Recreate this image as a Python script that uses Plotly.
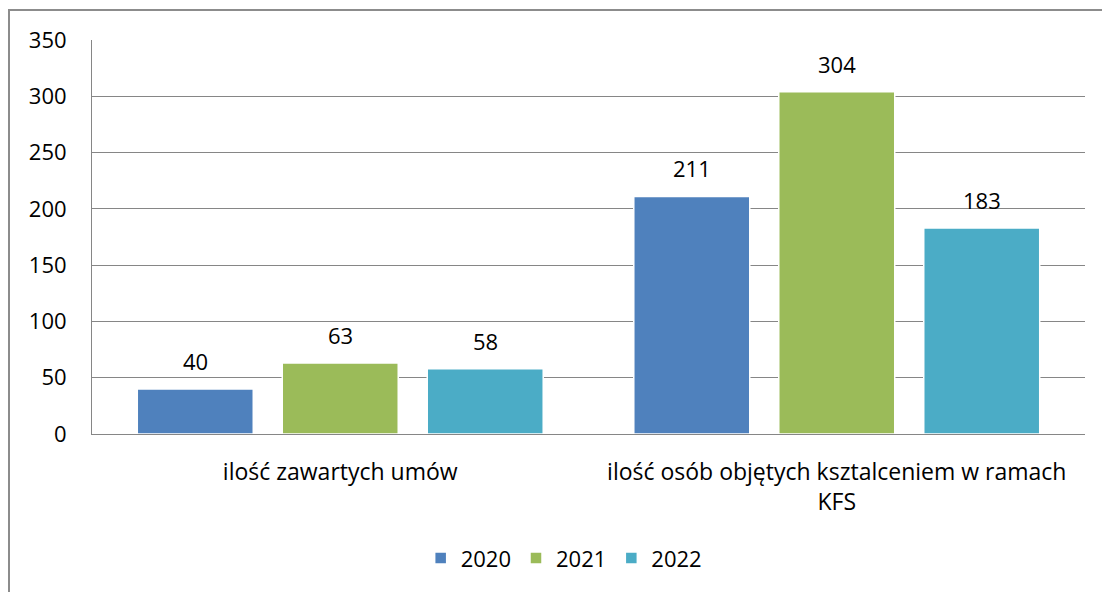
import plotly.graph_objects as go

categories = ["ilość zawartych umów", "ilość osób objętych ksztalceniem w ramach<br>KFS"]
years = ["2020", "2021", "2022"]
values_2020 = [40, 211]
values_2021 = [63, 304]
values_2022 = [58, 183]
colors = ["#4F81BD", "#9BBB59", "#4BACC6"]

font_family = "'Open Sans', sans-serif"

# group geometry in category units (like Excel's gap width)
group_width = 0.876
slot = group_width / len(years)
bar_width = slot * 0.8
cat_pos = list(range(len(categories)))

fig = go.Figure()
annotations = []
for j, (name, vals, col) in enumerate(zip(years, [values_2020, values_2021, values_2022], colors)):
    xs = [p + (j - (len(years) - 1) / 2) * slot for p in cat_pos]
    fig.add_trace(go.Bar(
        x=xs, y=vals, name=name, width=bar_width,
        marker=dict(color=col, line=dict(color="white", width=1.5)),
    ))
    for x, v in zip(xs, vals):
        annotations.append(dict(x=x, y=v, xref="x", yref="y", text=str(v), showarrow=False,
                                yshift=28, yanchor="middle",
                                font=dict(size=22, color="black", family=font_family)))

fig.update_layout(
    width=1102, height=592,
    margin=dict(l=92, r=17, t=40, b=158),
    paper_bgcolor="white", plot_bgcolor="white",
    barmode="overlay",
    font=dict(family=font_family, size=22, color="black"),
    legend=dict(orientation="h", x=0.475, xanchor="center", y=-0.315, yanchor="middle",
                font=dict(size=22), traceorder="normal", itemwidth=30),
    showlegend=True,
    annotations=annotations,
    shapes=[dict(type="rect", xref="paper", yref="paper",
                 x0=-83 / 993, x1=1.1, y0=-0.5, y1=1 + 30 / 394,
                 line=dict(color="#8c8c8c", width=2), layer="below")],
)
fig.update_yaxes(range=[0, 350], dtick=50, showgrid=True, gridcolor="#868686", gridwidth=1,
                 showline=True, linecolor="#868686", linewidth=1, zeroline=False,
                 ticklabelstandoff=20, tickfont=dict(size=22))
fig.update_xaxes(range=[-0.5, len(categories) - 0.5], tickvals=cat_pos, ticktext=categories,
                 showgrid=False, zeroline=False,
                 showline=True, linecolor="#868686", linewidth=1, tickfont=dict(size=23),
                 ticklabelstandoff=17)

fig.write_html("out.html", config={"displayModeBar": False},
               post_script="document.body.style.margin='0';")
